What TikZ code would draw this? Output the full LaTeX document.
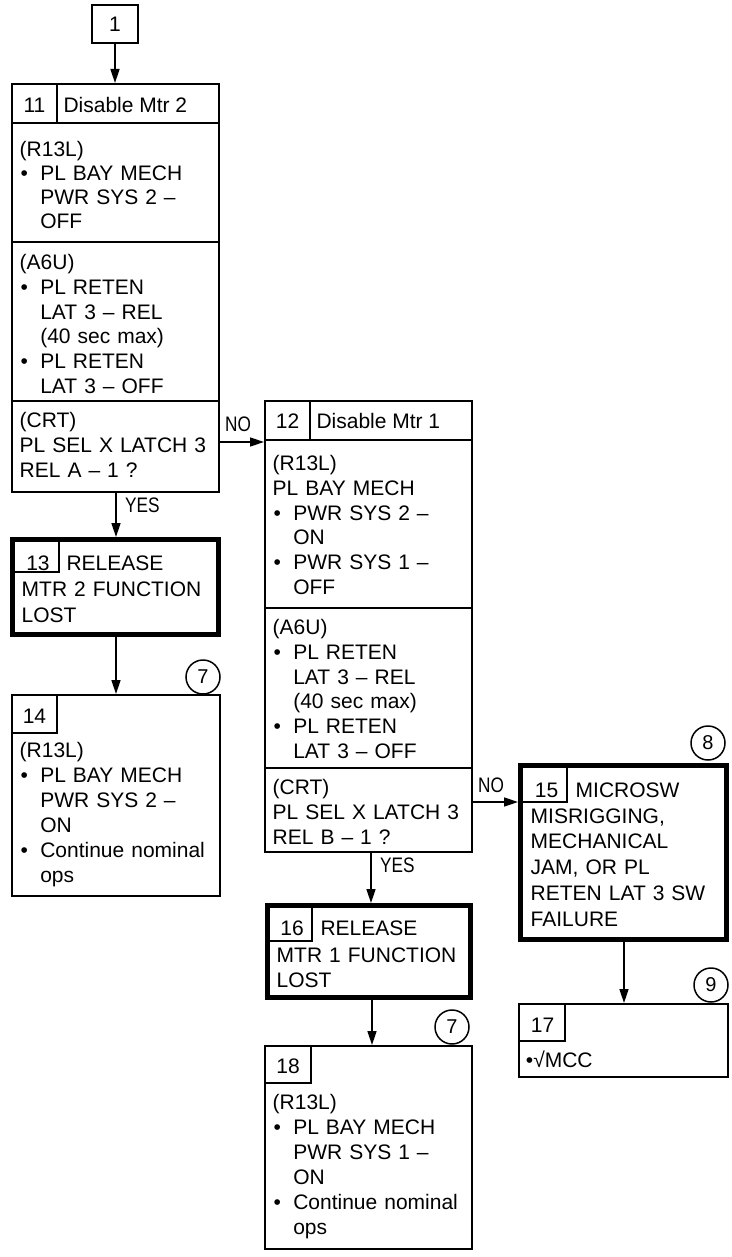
\documentclass[tikz,border=0pt]{standalone}
\usepackage{fontspec}
\usepackage{graphicx}
\setmainfont{Liberation Sans}
\usetikzlibrary{arrows.meta}
\newcommand{\mainfs}{\fontsize{21}{24.8}\selectfont}
\newcommand{\statfs}{\fontsize{21}{25.8}\selectfont}
\newcommand{\bl}{\makebox[20.6pt][l]{\hspace{0.8pt}•}}
\newcommand{\ind}{\hspace*{20.6pt}}
\newcommand{\narrow}[1]{\scalebox{0.82}[1]{#1}}
\begin{document}
\begin{tikzpicture}[x=1pt,y=-1pt,
  box/.style={draw, line width=2pt, inner sep=0pt},
  thickbox/.style={draw, line width=5pt, inner sep=0pt},
  tline/.style={line width=2pt},
  txt/.style={anchor=base west, inner sep=0pt, text width=200pt, align=left, font=\mainfs},
  stxt/.style={anchor=base west, inner sep=0pt, text width=200pt, align=left, font=\statfs},
  num/.style={anchor=base, inner sep=0pt, font=\mainfs},
  lbl/.style={anchor=base west, inner sep=0pt, font=\mainfs},
  arr/.style={line width=1.6pt, -{Triangle[length=14pt,width=9pt]}},
  circ/.style={draw, circle, line width=1.5pt, minimum size=34pt, inner sep=0pt, font=\fontsize{20}{22}\selectfont}
]
\useasboundingbox (0,0) rectangle (731,1257);

% ---- box 1
\node[box, minimum width=46pt, minimum height=38pt, font=\mainfs] (n1) at (115,24) {1};

% ---- box 11
\node[box, minimum width=207pt, minimum height=408pt] (b11) at (115.5,288) {};
\draw[tline] (12,123) -- (219,123);
\draw[tline] (57,84) -- (57,123);
\draw[tline] (12,242) -- (219,242);
\draw[tline] (12,401) -- (219,401);
\node[num] (t11) at (34.5,112.5) {11};
\node[lbl] (h11) at (63.3,112.5) {Disable Mtr 2};
\node[txt, font=\fontsize{21}{24}\selectfont] (s11a) at (19.5,157) {(R13L)\\ \bl PL BAY MECH\\ \ind PWR SYS 2 –\\ \ind OFF};
\node[txt] (s11b) at (19.5,269.5) {(A6U)\\ \bl PL RETEN\\ \ind LAT 3 – REL\\ \ind (40 sec max)\\ \bl PL RETEN\\ \ind LAT 3 – OFF};
\node[txt] (s11c) at (19.5,427.5) {(CRT)\\ PL SEL X LATCH 3\\ REL A – 1 ?};

% ---- box 12
\node[box, minimum width=207pt, minimum height=451pt] (b12) at (368.5,626.5) {};
\draw[tline] (265,440) -- (472,440);
\draw[tline] (310,401) -- (310,440);
\draw[tline] (265,608) -- (472,608);
\draw[tline] (265,768) -- (472,768);
\node[num] (t12) at (287.5,428) {12};
\node[lbl] (h12) at (316.3,428) {Disable Mtr 1};
\node[txt] (s12a) at (272.5,470.5) {(R13L)\\ PL BAY MECH\\ \bl PWR SYS 2 –\\ \ind ON\\ \bl PWR SYS 1 –\\ \ind OFF};
\node[txt] (s12b) at (272.5,634.5) {(A6U)\\ \bl PL RETEN\\ \ind LAT 3 – REL\\ \ind (40 sec max)\\ \bl PL RETEN\\ \ind LAT 3 – OFF};
\node[txt] (s12c) at (272.5,794.5) {(CRT)\\ PL SEL X LATCH 3\\ REL B – 1 ?};

% ---- box 13
\node[thickbox, minimum width=206pt, minimum height=95pt] (b13) at (115.5,587) {};
\draw[tline] (15,572) -- (59,572) -- (59,542);
\node[num] (t13) at (38,570.5) {13};
\node[lbl] (h13) at (66.3,570.5) {RELEASE};
\node[stxt] (s13) at (21.5,596.5) {MTR 2 FUNCTION\\ LOST};

% ---- box 14
\node[box, minimum width=208pt, minimum height=201pt] (b14) at (116,795.5) {};
\draw[tline] (12,733) -- (57,733) -- (57,695);
\node[num] (t14) at (34.5,723.5) {14};
\node[txt, font=\fontsize{21}{25}\selectfont] (s14) at (19.5,757.5) {(R13L)\\ \bl PL BAY MECH\\ \ind PWR SYS 2 –\\ \ind ON\\ \bl Continue nominal\\ \ind ops};

% ---- box 16
\node[thickbox, minimum width=203pt, minimum height=92pt] (b16) at (369,951.5) {};
\draw[tline] (270,941) -- (312,941) -- (312,908);
\node[num] (t16) at (292,935) {16};
\node[lbl] (h16) at (320.3,935) {RELEASE};
\node[stxt, font=\fontsize{21}{25}\selectfont] (s16) at (276.5,962) {MTR 1 FUNCTION\\ LOST};

% ---- box 18
\node[box, minimum width=207pt, minimum height=203pt] (b18) at (368.5,1147.5) {};
\draw[tline] (265,1083) -- (311,1083) -- (311,1046);
\node[num] (t18) at (288,1073.5) {18};
\node[txt, font=\fontsize{21}{25}\selectfont] (s18) at (272.5,1109.5) {(R13L)\\ \bl PL BAY MECH\\ \ind PWR SYS 1 –\\ \ind ON\\ \bl Continue nominal\\ \ind ops};

% ---- box 15
\node[thickbox, minimum width=205.5pt, minimum height=174pt] (b15) at (623.25,852.5) {};
\draw[tline] (523,802) -- (567,802) -- (567,768);
\node[num] (t15) at (546.5,797) {15};
\node[lbl] (h15) at (575.5,797) {MICROSW};
\node[stxt] (s15) at (530.5,823) {MISRIGGING,\\ MECHANICAL\\ JAM, OR PL\\ RETEN LAT 3 SW\\ FAILURE};

% ---- box 17
\node[box, minimum width=209pt, minimum height=73pt] (b17) at (623.5,1040.5) {};
\draw[tline] (519,1041) -- (565,1041) -- (565,1004);
\node[num] (t17) at (542.5,1032.5) {17};
\node[lbl] (s17) at (525.7,1067.5) {•√MCC};

% ---- circles
\node[circ] (c7a) at (203,677) {7};
\node[circ] (c7b) at (452,1027) {7};
\node[circ] (c8) at (708,743) {8};
\node[circ] (c9) at (711,985) {9};

% ---- connectors
\draw[arr] (n1.south) -- (n1.south |- b11.north);
\draw[arr] (116,0 |- b11.south) -- (116,0 |- b13.north);
\node[lbl] (yes1) at (125,512.5) {\narrow{YES}};
\draw[arr] (b11.east |- 0,442) -- (b12.west |- 0,442);
\node[lbl] (no1) at (225,431.5) {\narrow{NO}};
\draw[arr] (116,0 |- b13.south) -- (116,0 |- b14.north);
\draw[arr] (b12.east |- 0,802) -- (b15.west |- 0,802);
\node[lbl] (no2) at (478,792.5) {\narrow{NO}};
\draw[arr] (371,0 |- b12.south) -- (371,0 |- b16.north);
\node[lbl] (yes2) at (380,872.5) {\narrow{YES}};
\draw[arr] (372,0 |- b16.south) -- (372,0 |- b18.north);
\draw[arr] (624,0 |- b15.south) -- (624,0 |- b17.north);
\end{tikzpicture}
\end{document}
